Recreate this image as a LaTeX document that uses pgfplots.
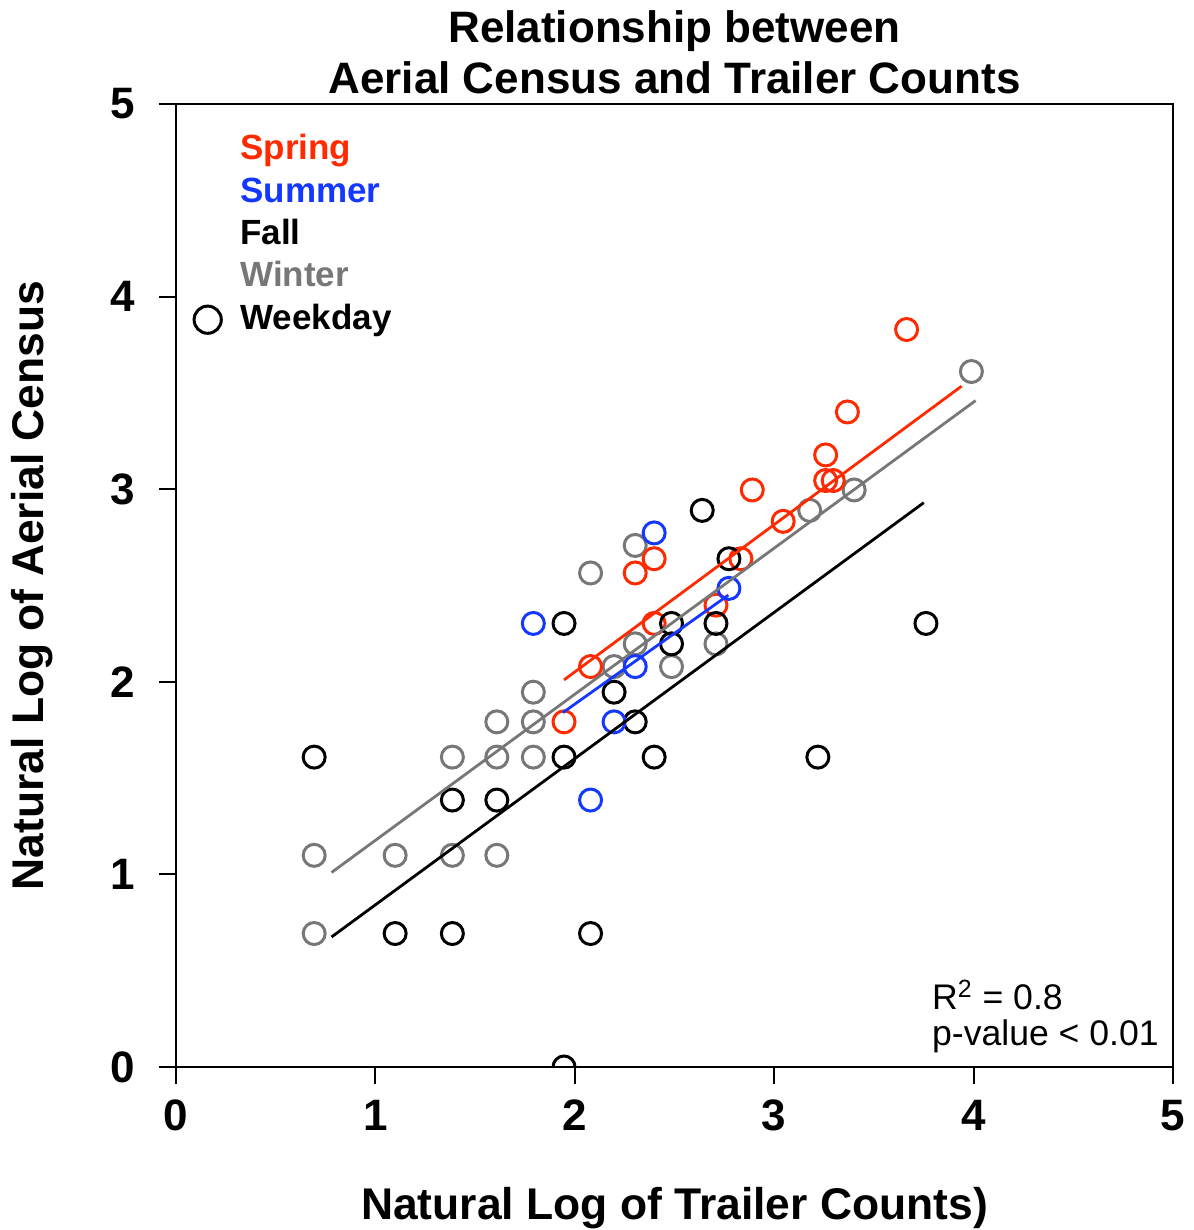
\documentclass[border=0pt]{standalone}
\usepackage{fontspec}
\setmainfont{Liberation Sans}
\usepackage{pgfplots}
\pgfplotsset{compat=1.18}
\definecolor{sred}{HTML}{FF2A00}
\definecolor{sblue}{HTML}{1438FF}
\definecolor{sgray}{HTML}{777777}
\begin{document}
\begin{tikzpicture}
\path[use as bounding box] (-88pt,-81.5pt) rectangle (508.5pt,533.5pt);
\begin{axis}[
  at={(0,0)}, anchor=south west,
  scale only axis, width=498.5pt, height=481.5pt,
  xmin=0, xmax=5, ymin=0, ymax=5,
  xtick={0,1,2,3,4,5}, ytick={0,1,2,3,4,5},
  tick align=outside, major tick length=8.5pt,
  axis line style={line width=1pt},
  every tick/.style={line width=1pt, black},
  xtick pos=bottom, ytick pos=left,
  /pgf/number format/assume math mode=true,
  ticklabel style={font=\fontsize{22}{26}\selectfont\bfseries},
  yticklabel style={xshift=-8.5pt},
  xticklabel style={yshift=-4.5pt},
  xlabel={Natural Log of Trailer Counts)},
  ylabel={Natural Log of Aerial Census},
  every axis x label/.style={at={(axis description cs:0.5,0)}, anchor=base, yshift=-76pt, font=\fontsize{22.2}{26}\selectfont\bfseries},
  every axis y label/.style={at={(axis description cs:0,0.5)}, anchor=center, rotate=90, yshift=72pt, font=\fontsize{22.2}{26}\selectfont\bfseries},
  clip marker paths=true,
  mark options={solid, line width=1.5pt},
]
% Winter
\addplot[only marks, mark=o, mark size=5.5pt, color=sgray] coordinates {
(0.693,1.099) (0.693,0.693) (1.099,1.099) (1.386,1.099) (1.386,1.609) (1.609,1.099)
(1.609,1.609) (1.609,1.792) (1.792,1.792) (1.792,1.609) (1.792,1.946) (2.079,2.565)
(2.197,2.079) (2.303,2.197) (2.303,2.708) (2.485,2.079) (2.708,2.197) (3.178,2.890)
(3.401,2.996) (3.989,3.611)};
% Spring
\addplot[only marks, mark=o, mark size=5.5pt, color=sred] coordinates {
(1.946,1.792) (2.079,2.079) (2.303,2.565) (2.398,2.639) (2.398,2.303) (2.708,2.398)
(2.833,2.639) (2.890,2.996) (3.045,2.833) (3.258,3.045) (3.296,3.045) (3.258,3.178)
(3.367,3.401) (3.664,3.829)};
% Fall
\addplot[only marks, mark=o, mark size=5.5pt, color=black] coordinates {
(0.693,1.609) (1.099,0.693) (1.386,0.693) (1.386,1.386) (1.609,1.386) (1.946,2.303)
(1.946,1.609) (1.946,0) (2.079,0.693) (2.197,1.946) (2.303,1.792) (2.398,1.609)
(2.485,2.303) (2.485,2.197) (2.639,2.890) (2.708,2.303) (2.773,2.639) (3.219,1.609)
(3.761,2.303)};
% Summer
\addplot[only marks, mark=o, mark size=5.5pt, color=sblue] coordinates {
(1.792,2.303) (2.398,2.773) (2.303,2.079) (2.197,1.792) (2.079,1.386) (2.773,2.485)};
% regression lines
\addplot[sgray, line width=1.4pt, no marks] coordinates {(0.78,1.01) (4.01,3.46)};
\addplot[black, line width=1.4pt, no marks] coordinates {(0.78,0.675) (3.75,2.93)};
\addplot[sred, line width=1.4pt, no marks] coordinates {(1.946,2.01) (3.94,3.535)};
\addplot[sblue, line width=1.4pt, no marks] coordinates {(1.94,1.84) (2.77,2.45)};
% legend marker
\addplot[only marks, mark=o, mark size=6.8pt, color=black] coordinates {(0.159,3.88)};
% legend texts
\node[anchor=base west, text=sred, font=\fontsize{17.5}{20}\selectfont\bfseries, inner sep=0pt] at (axis cs:0.321,4.71) {Spring};
\node[anchor=base west, text=sblue, font=\fontsize{17.5}{20}\selectfont\bfseries, inner sep=0pt] at (axis cs:0.321,4.491) {Summer};
\node[anchor=base west, text=black, font=\fontsize{17.5}{20}\selectfont\bfseries, inner sep=0pt] at (axis cs:0.321,4.268) {Fall};
\node[anchor=base west, text=sgray, font=\fontsize{17.5}{20}\selectfont\bfseries, inner sep=0pt] at (axis cs:0.321,4.050) {Winter};
\node[anchor=base west, text=black, font=\fontsize{17.5}{20}\selectfont\bfseries, inner sep=0pt] at (axis cs:0.321,3.827) {Weekday};
% stats
\node[anchor=base west, font=\fontsize{17.8}{20}\selectfont, inner sep=0pt] at (axis cs:3.79,0.296) {R\textsuperscript{2} = 0.8};
\node[anchor=base west, font=\fontsize{17.8}{20}\selectfont, inner sep=0pt] at (axis cs:3.79,0.114) {p-value < 0.01};
\end{axis}
\node[anchor=base, font=\fontsize{22}{25}\selectfont\bfseries, inner sep=0pt] at (249.25pt,512pt) {Relationship between};
\node[anchor=base, font=\fontsize{22}{25}\selectfont\bfseries, inner sep=0pt] at (249.25pt,486.5pt) {Aerial Census and Trailer Counts};
\end{tikzpicture}
\end{document}
